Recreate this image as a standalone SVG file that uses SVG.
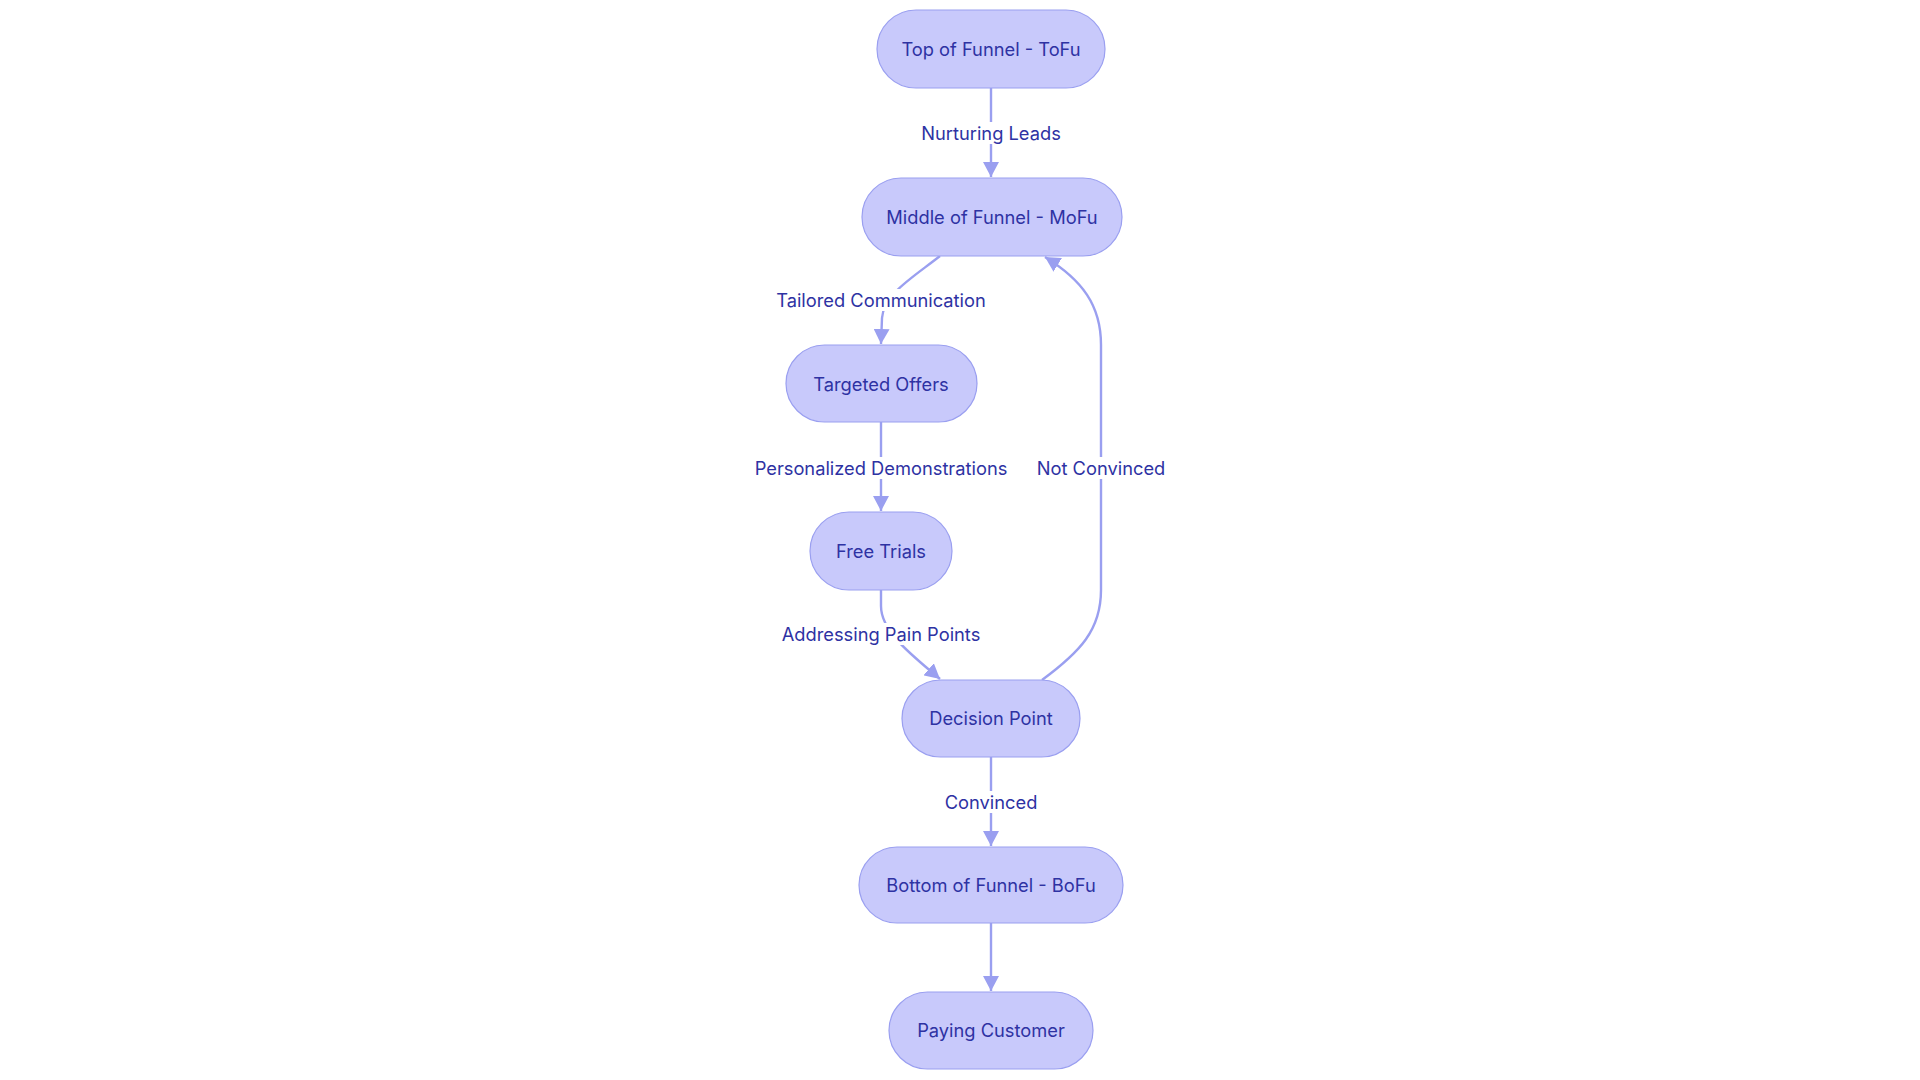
<svg xmlns="http://www.w3.org/2000/svg" width="1920" height="1080" viewBox="0 0 1920 1080">
<style>
.node rect{fill:#c8c9fb;stroke:#9a9ff0;stroke-width:1.2}
.node text,.lbl text{font-family:Inter,"Open Sans","Liberation Sans",sans-serif;font-size:18.3px;fill:#2e32a3;text-anchor:middle;dominant-baseline:central}
.edge{fill:none;stroke:#9a9ff0;stroke-width:2.4}
.lbl rect{fill:#ffffff}
</style>
<defs>
<marker id="arr" viewBox="0 0 15 16" refX="15" refY="8" markerWidth="15" markerHeight="16" markerUnits="userSpaceOnUse" orient="auto">
<path d="M0,0 L15,8 L0,16 z" fill="#9a9ff0"/>
</marker>
</defs>
<rect width="1920" height="1080" fill="#ffffff"/>
<g id="connectors">
<path class="edge" d="M991,88 L991,177" marker-end="url(#arr)"/>
<path class="edge" d="M940,256 C912,278 884,294 882,318 L881,344" marker-end="url(#arr)"/>
<path class="edge" d="M881,422 L881,511" marker-end="url(#arr)"/>
<path class="edge" d="M881,590 L881,606 C881,632 912,655 940,679" marker-end="url(#arr)"/>
<path class="edge" d="M1042,680 C1080,652 1101,630 1101,590 L1101,345 C1101,305 1082,280 1045,257" marker-end="url(#arr)"/>
<path class="edge" d="M991,757 L991,846" marker-end="url(#arr)"/>
<path class="edge" d="M991,923 L991,991" marker-end="url(#arr)"/>
<g class="lbl"><rect x="920" y="122" width="142" height="22"/><text x="991" y="133">Nurturing Leads</text></g>
<g class="lbl"><rect x="775" y="289" width="212" height="22"/><text x="881" y="300">Tailored Communication</text></g>
<g class="lbl"><rect x="753" y="457" width="256" height="22"/><text x="881" y="468">Personalized Demonstrations</text></g>
<g class="lbl"><rect x="1035" y="457" width="132" height="22"/><text x="1101" y="468">Not Convinced</text></g>
<g class="lbl"><rect x="783" y="623" width="196" height="22"/><text x="881" y="634">Addressing Pain Points</text></g>
<g class="lbl"><rect x="943" y="791" width="96" height="22"/><text x="991" y="802">Convinced</text></g>
</g>
<g id="tofu" class="node"><rect x="877" y="10" width="228" height="78" rx="39"/><text x="991" y="49">Top of Funnel - ToFu</text></g>
<g id="mofu" class="node"><rect x="862" y="178" width="260" height="78" rx="39"/><text x="992" y="217">Middle of Funnel - MoFu</text></g>
<g id="targeted" class="node"><rect x="786" y="345" width="191" height="77" rx="38.5"/><text x="881" y="384">Targeted Offers</text></g>
<g id="trials" class="node"><rect x="810" y="512" width="142" height="78" rx="39"/><text x="881" y="551">Free Trials</text></g>
<g id="decision" class="node"><rect x="902" y="680" width="178" height="77" rx="38.5"/><text x="991" y="718">Decision Point</text></g>
<g id="bofu" class="node"><rect x="859" y="847" width="264" height="76" rx="38"/><text x="991" y="885">Bottom of Funnel - BoFu</text></g>
<g id="paying" class="node"><rect x="889" y="992" width="204" height="77" rx="38.5"/><text x="991" y="1030">Paying Customer</text></g>
</svg>
